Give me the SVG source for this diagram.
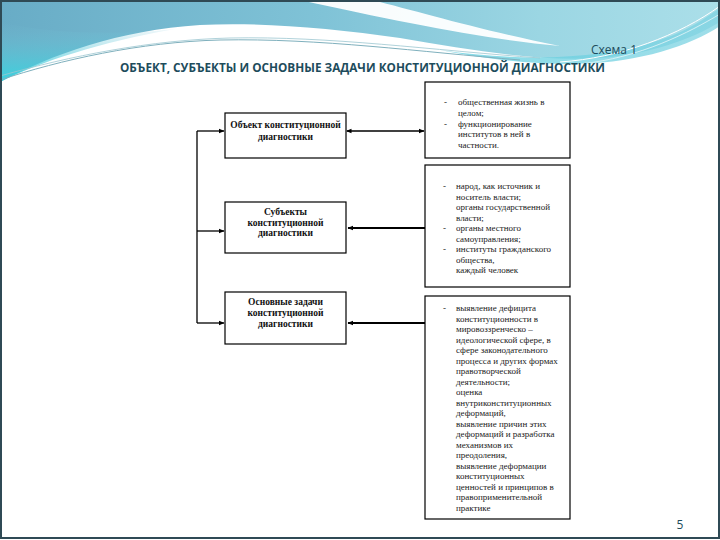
<svg xmlns="http://www.w3.org/2000/svg" width="720" height="540" viewBox="0 0 720 540">
<defs>
<linearGradient id="tealTop" x1="0" y1="0" x2="1" y2="0">
<stop offset="0" stop-color="#68acc6"/>
<stop offset="0.45" stop-color="#80c3d7"/>
<stop offset="0.75" stop-color="#9bd6e3"/>
<stop offset="1" stop-color="#abdfe9"/>
</linearGradient>
<linearGradient id="cyanLow" x1="0" y1="0" x2="0" y2="1">
<stop offset="0" stop-color="#7cc0d5" stop-opacity="0"/>
<stop offset="1" stop-color="#36d3df"/>
</linearGradient>
<linearGradient id="bandR" x1="0" y1="0" x2="1" y2="0">
<stop offset="0" stop-color="#5fcfdf"/>
<stop offset="1" stop-color="#7fd3e2"/>
</linearGradient>
<marker id="arr" markerWidth="6" markerHeight="6" refX="5" refY="3" orient="auto" markerUnits="userSpaceOnUse">
<path d="M0,0.8 L5.5,3 L0,5.2 Z" fill="#000"/>
</marker>
<marker id="arrS" markerWidth="6" markerHeight="6" refX="1" refY="3" orient="auto" markerUnits="userSpaceOnUse">
<path d="M5.5,0.8 L0,3 L5.5,5.2 Z" fill="#000"/>
</marker>
</defs>
<style>
.box{fill:#fff;stroke:#000;stroke-width:1.2}
.lbl{font-family:"Liberation Serif","Times New Roman",serif;font-size:9.5px;font-weight:bold;fill:#111;text-anchor:middle}
.txt{font-family:"Liberation Serif","Times New Roman",serif;font-size:9px;fill:#222}
.con{stroke:#000;stroke-width:1.3;fill:none}
.thick{stroke:#000;stroke-width:2;fill:none}
.ttl{font-family:"Liberation Sans Narrow","Open Sans",sans-serif;fill:#1d4c5c}
</style>
<rect x="0" y="0" width="720" height="540" fill="#fff"/>
<g id="background">
<path d="M0,0 H720 V22 C690,40 650,54 600,58 C540,62 470,50 400,38 C330,28 260,22 200,25 C120,30 50,55 0,82 Z" fill="url(#tealTop)"/>
<path d="M0,22 C60,36 130,34 175,29 C100,42 40,62 0,82 Z" fill="url(#cyanLow)"/>
<path d="M300,0 H372 C420,12 480,30 560,46 C490,40 400,22 300,0 Z" fill="#ffffff" opacity="0.95"/>
<path d="M440,50 C520,62 600,60 660,40 C690,30 705,18 720,8 V26 C690,46 640,62 580,64 C530,65 480,58 440,50 Z" fill="url(#bandR)" opacity="0.75"/>
<path d="M0,80 C60,60 140,42 220,40 C320,38 420,52 520,60" fill="none" stroke="#7fb0bd" stroke-width="1"/>
<path d="M0,76 C70,56 150,40 230,38 C330,36 430,50 540,58" fill="none" stroke="#9cc6d0" stroke-width="0.8"/>
<path d="M560,62 C620,58 680,35 720,6" fill="none" stroke="#ffffff" stroke-width="1"/>
<path d="M580,64 C640,58 690,32 720,14" fill="none" stroke="#e6f6f9" stroke-width="0.8"/>
<rect x="1" y="1" width="718" height="537" fill="none" stroke="#2f4a55" stroke-width="2"/>
</g>
<g id="title">
<text class="ttl" x="637" y="54" font-size="12" text-anchor="end">Схема 1</text>
<text class="ttl" x="120" y="72" font-size="12.5" font-weight="bold" textLength="485" lengthAdjust="spacingAndGlyphs">ОБЪЕКТ, СУБЪЕКТЫ И ОСНОВНЫЕ ЗАДАЧИ КОНСТИТУЦИОННОЙ ДИАГНОСТИКИ</text>
</g>
<g id="connectors">
<line class="con" x1="197" y1="131" x2="197" y2="323"/>
<line class="con" x1="197" y1="131" x2="224" y2="131" marker-end="url(#arr)"/>
<line class="con" x1="197" y1="231" x2="224" y2="231" marker-end="url(#arr)"/>
<line class="con" x1="197" y1="323" x2="224" y2="323" marker-end="url(#arr)"/>
<line class="con" x1="347" y1="131" x2="424" y2="131" marker-start="url(#arrS)" marker-end="url(#arr)"/>
<line class="thick" x1="425" y1="228" x2="348" y2="228" marker-end="url(#arr)"/>
<line class="thick" x1="425" y1="323" x2="348" y2="323" marker-end="url(#arr)"/>
</g>
<g id="object">
<rect class="box" x="225" y="113" width="121" height="45"/>
<text class="lbl" x="285.5" y="128">Объект конституционной</text>
<text class="lbl" x="285.5" y="139.5">диагностики</text>
</g>
<g id="subjects">
<rect class="box" x="225" y="202" width="121" height="51"/>
<text class="lbl" x="285.5" y="215">Субъекты</text>
<text class="lbl" x="285.5" y="225.5">конституционной</text>
<text class="lbl" x="285.5" y="236">диагностики</text>
</g>
<g id="tasks">
<rect class="box" x="225" y="292" width="121" height="52"/>
<text class="lbl" x="285.5" y="305">Основные задачи</text>
<text class="lbl" x="285.5" y="316">конституционной</text>
<text class="lbl" x="285.5" y="326.5">диагностики</text>
</g>
<g id="object-content">
<rect class="box" x="425" y="82" width="145" height="76"/>
<text class="txt" x="444" y="105">-</text>
<text class="txt" x="458" y="105">общественная жизнь в</text>
<text class="txt" x="458" y="116">целом;</text>
<text class="txt" x="444" y="126.5">-</text>
<text class="txt" x="458" y="126.5">функционирование</text>
<text class="txt" x="458" y="137">институтов в ней в</text>
<text class="txt" x="458" y="147.5">частности.</text>
</g>
<g id="subjects-content">
<rect class="box" x="425" y="165" width="145" height="122"/>
<text class="txt" x="443" y="189">-</text>
<text class="txt" x="456" y="189">народ, как источник и</text>
<text class="txt" x="456" y="199.5">носитель власти;</text>
<text class="txt" x="456" y="210">органы государственной</text>
<text class="txt" x="456" y="220.5">власти;</text>
<text class="txt" x="443" y="231">-</text>
<text class="txt" x="456" y="231">органы местного</text>
<text class="txt" x="456" y="241.5">самоуправления;</text>
<text class="txt" x="443" y="252">-</text>
<text class="txt" x="456" y="252">институты гражданского</text>
<text class="txt" x="456" y="262.5">общества,</text>
<text class="txt" x="456" y="273">каждый человек</text>
</g>
<g id="tasks-content">
<rect class="box" x="425" y="296" width="145" height="223"/>
<text class="txt" x="443" y="311">-</text>
<text class="txt" x="456" y="311">выявление дефицита</text>
<text class="txt" x="456" y="321.5">конституционности в</text>
<text class="txt" x="456" y="332">мировоззренческо –</text>
<text class="txt" x="456" y="342.5">идеологической сфере, в</text>
<text class="txt" x="456" y="353">сфере законодательного</text>
<text class="txt" x="456" y="363.5">процесса и других формах</text>
<text class="txt" x="456" y="374">правотворческой</text>
<text class="txt" x="456" y="384.5">деятельности;</text>
<text class="txt" x="456" y="395">оценка</text>
<text class="txt" x="456" y="405.5">внутриконституционных</text>
<text class="txt" x="456" y="416">деформаций,</text>
<text class="txt" x="456" y="426.5">выявление причин этих</text>
<text class="txt" x="456" y="437">деформаций и разработка</text>
<text class="txt" x="456" y="447.5">механизмов их</text>
<text class="txt" x="456" y="458">преодоления,</text>
<text class="txt" x="456" y="468.5">выявление деформации</text>
<text class="txt" x="456" y="479">конституционных</text>
<text class="txt" x="456" y="489.5">ценностей и принципов в</text>
<text class="txt" x="456" y="500">правоприменительной</text>
<text class="txt" x="456" y="510.5">практике</text>
</g>
<g id="page-number">
<text class="ttl" x="680" y="529" font-size="12" text-anchor="middle">5</text>
</g>
</svg>
